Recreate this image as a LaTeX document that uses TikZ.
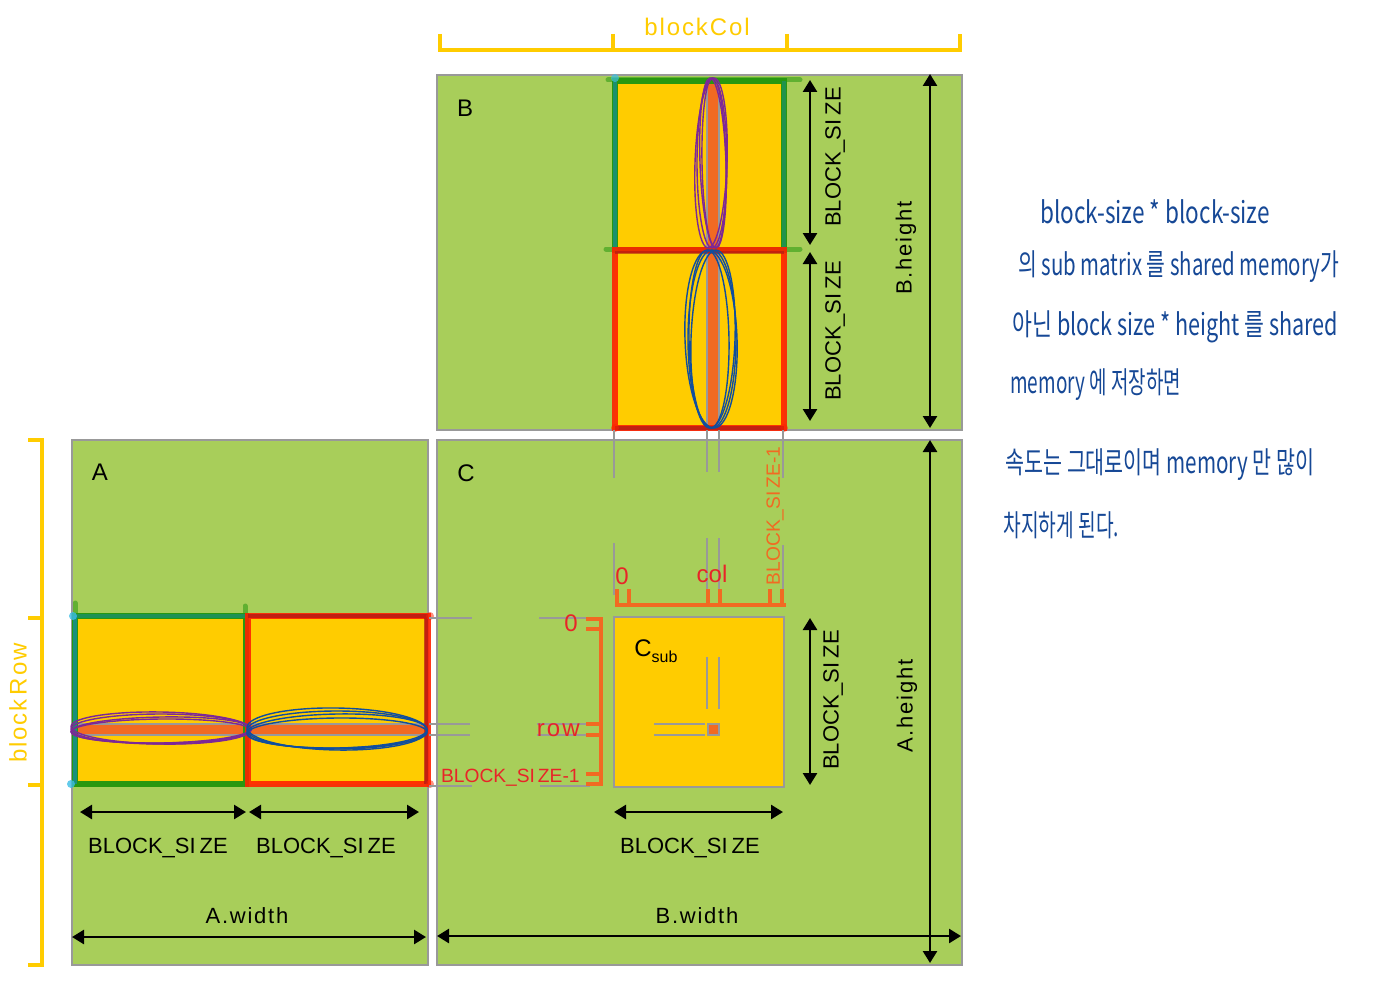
\documentclass[tikz,border=0pt]{standalone}
\usepackage{fontspec}
\setmainfont{Liberation Sans}
\newfontfamily\handfont{Noto Sans CJK KR}
\newfontfamily\spacedfont[LetterSpace=8]{Liberation Sans}
\usetikzlibrary{arrows.meta}
\definecolor{bggreen}{RGB}{168,206,90}
\definecolor{bordergray}{RGB}{153,153,153}
\definecolor{subyellow}{RGB}{255,204,0}
\definecolor{stripeorange}{RGB}{241,106,34}
\definecolor{labelred}{RGB}{232,36,40}
\definecolor{gboxc}{RGB}{40,152,16}
\definecolor{tealc}{RGB}{20,140,170}
\definecolor{cyanc}{RGB}{60,190,230}
\definecolor{rboxc}{RGB}{255,34,0}
\definecolor{darkred}{RGB}{170,24,24}
\definecolor{purpleink}{RGB}{125,40,150}
\definecolor{blueink}{RGB}{16,78,158}
\definecolor{handblue}{RGB}{22,72,150}
\definecolor{bracketyellow}{RGB}{255,204,0}
\tikzset{
  mat/.style={draw=bordergray, fill=bggreen, line width=1pt, inner sep=0pt, outer sep=0pt},
  dimarrow/.style={line width=1.3pt, {Triangle[length=6pt,width=7pt]}-{Triangle[length=6pt,width=7pt]}},
  guide/.style={draw=bordergray, line width=1pt},
  obracket/.style={draw=stripeorange, line width=2pt},
  otick/.style={draw=stripeorange, line width=1.6pt},
  ybracket/.style={draw=bracketyellow, line width=2pt},
  dimlabel/.style={font=\fontsize{11}{13}\selectfont, inner sep=0pt},
  biglabel/.style={font=\spacedfont\fontsize{11}{13}\selectfont, inner sep=0pt},
  mlabel/.style={font=\fontsize{12}{14}\selectfont, inner sep=0pt},
  redlabel/.style={text=labelred, font=\fontsize{12}{14}\selectfont, inner sep=0pt},
  smallred/.style={text=labelred, font=\fontsize{9.6}{12}\selectfont, inner sep=0pt},
  gbox/.style={draw=gboxc, line width=3pt},
  rbox/.style={draw=rboxc, line width=3pt, draw opacity=0.9},
  purplering/.style={draw=purpleink, line width=0.7pt},
  bluering/.style={draw=blueink, line width=0.7pt},
  handtext/.style={text=handblue, font=\handfont\fontsize{12}{14}\selectfont, anchor=west, inner sep=0pt},
}
\begin{document}
\begin{tikzpicture}[x=0.5pt,y=-0.5pt]
\useasboundingbox (0,0) rectangle (1400,1000);
\fill[white] (0,0) rectangle (1400,1000);

% matrices
\node[mat, minimum width=262.5pt, minimum height=177.5pt] (B) at (699.5,252.5) {};
\node[mat, minimum width=178pt, minimum height=262.5pt] (A) at (250,702.5) {};
\node[mat, minimum width=262.5pt, minimum height=262.5pt] (C) at (699.5,702.5) {};
\node[mlabel] (Blab) at (465,108) {B};
\node[mlabel] (Alab) at (100,472) {A};
\node[mlabel] (Clab) at (466,473) {C};

% yellow sub-blocks of A and B
\fill[subyellow] (615,81) rectangle (784,428);
\fill[subyellow] (75,616) rectangle (428,784);

% stripes
\fill[stripeorange] (707,81) rectangle (719,428);
\draw[guide, line width=0.8pt] (707,81) -- (707,428) (719,81) -- (719,428);
\fill[stripeorange] (75,724) rectangle (428,735);
\draw[guide, line width=0.8pt] (75,724) -- (428,724) (75,735) -- (428,735);

% block outlines of B
\draw[gboxc, line width=2.5pt, line cap=round, opacity=0.55] (608,80) -- (800,80);
\draw[gboxc, line width=2.5pt, line cap=round, opacity=0.55] (606,249) -- (800,249);
\draw[gbox] (615,81) rectangle (784,250);
\draw[tealc, line width=2pt, opacity=0.6] (615,81) -- (615,250);
\draw[tealc, line width=2pt, opacity=0.4] (784,81) -- (784,250);
\fill[cyanc, opacity=0.7] (615,78) circle [radius=4];
\draw[rbox] (615,250) rectangle (784,428);
\draw[darkred, line width=2pt, opacity=0.7] (615,428) -- (784,428);
\draw[darkred, line width=1.5pt, opacity=0.6] (615,252) -- (784,252);
\fill[rboxc, opacity=0.5] (615,428) circle [radius=4] (784,428) circle [radius=4];

% block outlines of A
\draw[gboxc, line width=2.5pt, line cap=round, opacity=0.55] (75,603) -- (75,616);
\draw[gboxc, line width=2.5pt, line cap=round, opacity=0.55] (245,606) -- (245,616);
\draw[gbox] (75,616) rectangle (246,784);
\draw[tealc, line width=2pt, opacity=0.7] (75,616) -- (75,784);
\draw[tealc, line width=2pt, opacity=0.45] (75,616) -- (246,616);
\fill[cyanc, opacity=0.8] (73,616) circle [radius=4] (71,784) circle [radius=4];
\draw[rbox] (248,616) rectangle (428,784);
\draw[darkred, line width=2pt, opacity=0.7] (248,616) -- (428,616) (426,616) -- (426,784);
\fill[rboxc, opacity=0.5] (430,616) circle [radius=4] (430,784) circle [radius=4];

% hand-drawn rings
\foreach \r/\a/\dx in {15/0/0, 13/2/1, 16/-2/-1, 12/1/2} {
  \draw[purplering, rotate around={\a:(712,163)}] (712+\dx,163) ellipse [x radius=\r, y radius=85];
}
\foreach \r/\a/\dx in {24/0/0, 26/2/-1, 22/-2/1, 20/1/-3} {
  \draw[bluering, rotate around={\a:(712,339)}] (712+\dx,339) ellipse [x radius=\r, y radius=89];
}
\foreach \r/\a/\dy in {15/0/0, 13/1/1, 16/-1/-1, 12/0.5/2} {
  \draw[purplering, rotate around={\a:(161,729)}] (161,729+\dy) ellipse [x radius=90, y radius=\r];
}
\foreach \r/\a/\dy in {19/0/0, 17/1/1, 21/-1/-1, 15/0.5/3} {
  \draw[bluering, rotate around={\a:(337,730)}] (337,730+\dy) ellipse [x radius=90, y radius=\r];
}

% C sub block
\node[draw=bordergray, fill=subyellow, line width=1pt, minimum width=85pt, minimum height=85pt, inner sep=0pt, outer sep=0pt] (Csub) at (699,702) {};
\node[mlabel, anchor=west] (Csublab) at (634,651) {C\raisebox{-0.45ex}{\fontsize{8}{9}\selectfont sub}};
\draw[guide] (707,657) -- (707,709) (719,657) -- (719,709);
\draw[guide] (654,724) -- (705,724) (654,735) -- (705,735);
\node[draw=bordergray, fill=stripeorange, line width=1pt, minimum width=5.5pt, minimum height=5.5pt, inner sep=0pt] (elem) at (713,729.5) {};

% guide lines in C
\draw[guide] (614,430) -- (614,478) (614,543) -- (614,595);
\draw[guide] (707,430) -- (707,472) (707,538) -- (707,603);
\draw[guide] (719,430) -- (719,472) (719,538) -- (719,603);
\draw[guide] (783,430) -- (783,478) (783,545) -- (783,593);
\draw[guide] (429,618) -- (472,618) (539,618) -- (590,618);
\draw[guide] (429,724) -- (470,724) (537,724) -- (590,724);
\draw[guide] (429,735) -- (470,735) (537,735) -- (590,735);
\draw[guide] (429,786) -- (472,786) (540,786) -- (590,786);

% orange index brackets
\draw[obracket] (615,605) -- (786,605);
\foreach \x in {617,629,708,720,770,782} \draw[otick] (\x,606) -- (\x,589);
\draw[obracket] (601,617) -- (601,786);
\foreach \y in {619,629,724,735,774,784} \draw[otick] (600,\y) -- (586,\y);
\node[redlabel] (c0) at (622,576) {0};
\node[redlabel] (ccol) at (712,574) {col};
\node[smallred, text=stripeorange, rotate=90] (cbs) at (775,516) {BLOCK\_SI\kern1.5pt ZE-1};
\node[redlabel, anchor=east] (r0) at (578,623) {0};
\node[redlabel, anchor=east] (rrow) at (580,730) {r\kern1pt o\kern1pt w};
\node[smallred, anchor=east] (rbs) at (580,778) {BLOCK\_SI\kern1.5pt ZE-1};

% yellow brackets
\draw[ybracket] (440,34) -- (440,50) -- (960,50) -- (960,34);
\draw[ybracket] (613,34) -- (613,50) (787,34) -- (787,50);
\node[text=bracketyellow, font=\spacedfont\fontsize{12}{14}\selectfont, inner sep=0pt] (bcol) at (697,27) {blockCol};
\draw[ybracket] (28,440) -- (42,440) -- (42,965) -- (28,965);
\draw[ybracket] (28,618) -- (42,618) (28,785) -- (42,785);
\node[text=bracketyellow, font=\spacedfont\fontsize{12}{14}\selectfont, rotate=90, inner sep=0pt] (brow) at (18,703) {block\kern2pt Row};

% dimension arrows
\coordinate (bs1t) at (810,80);  \coordinate (bs1b) at (810,245);
\coordinate (bs2t) at (810,252); \coordinate (bs2b) at (810,421);
\coordinate (bht) at (930,74);   \coordinate (bhb) at (930,428);
\coordinate (cst) at (810,618);  \coordinate (csb) at (810,785);
\coordinate (aht) at (930,440);  \coordinate (ahb) at (930,963);
\coordinate (as1l) at (80,812);  \coordinate (as1r) at (246,812);
\coordinate (as2l) at (249,812); \coordinate (as2r) at (419,812);
\coordinate (csl) at (614,812);  \coordinate (csr) at (783,812);
\coordinate (awl) at (72,937);   \coordinate (awr) at (426,937);
\coordinate (bwl) at (437,936);  \coordinate (bwr) at (961,936);
\draw[dimarrow] (bs1t) -- (bs1b);
\draw[dimarrow] (bs2t) -- (bs2b);
\draw[dimarrow] (bht) -- (bhb);
\draw[dimarrow] (cst) -- (csb);
\draw[dimarrow] (aht) -- (ahb);
\draw[dimarrow] (as1l) -- (as1r);
\draw[dimarrow] (as2l) -- (as2r);
\draw[dimarrow] (csl) -- (csr);
\draw[dimarrow] (awl) -- (awr);
\draw[dimarrow] (bwl) -- (bwr);

\node[dimlabel, rotate=90] (lb1) at (835,157) {BLOCK\_SI\kern2pt ZE};
\node[dimlabel, rotate=90] (lb2) at (835,331) {BLOCK\_SI\kern2pt ZE};
\node[biglabel, rotate=90] (lbh) at (906,248) {B.height};
\node[dimlabel, rotate=90] (lc1) at (833,700) {BLOCK\_SI\kern2pt ZE};
\node[biglabel, rotate=90] (lah) at (907,706) {A.height};
\node[dimlabel] (la1) at (158,848) {BLOCK\_SI\kern2pt ZE};
\node[dimlabel] (la2) at (326,848) {BLOCK\_SI\kern2pt ZE};
\node[dimlabel] (lc2) at (690,848) {BLOCK\_SI\kern2pt ZE};
\node[biglabel] (law) at (247,916) {A.width};
\node[biglabel] (lbw) at (697,916) {B.width};

% handwritten note
\node[handtext] (h1) at (1040,212) {\scalebox{0.94}[1.25]{block-size * block-size}};
\node[handtext] (h2) at (1018,267) {\scalebox{0.85}[1.25]{의 sub matrix 를 shared memory가}};
\node[handtext] (h3) at (1012,327) {\scalebox{0.9}[1.25]{아닌 block size * height 를 shared}};
\node[handtext] (h4) at (1010,385) {\scalebox{0.79}[1.25]{memory 에 저장하면}};
\node[handtext] (h5) at (1005,465) {\scalebox{0.86}[1.25]{속도는 그대로이며 memory 만 많이}};
\node[handtext] (h6) at (1003,525) {\scalebox{0.8}[1.25]{차지하게 된다.}};
\end{tikzpicture}
\end{document}
